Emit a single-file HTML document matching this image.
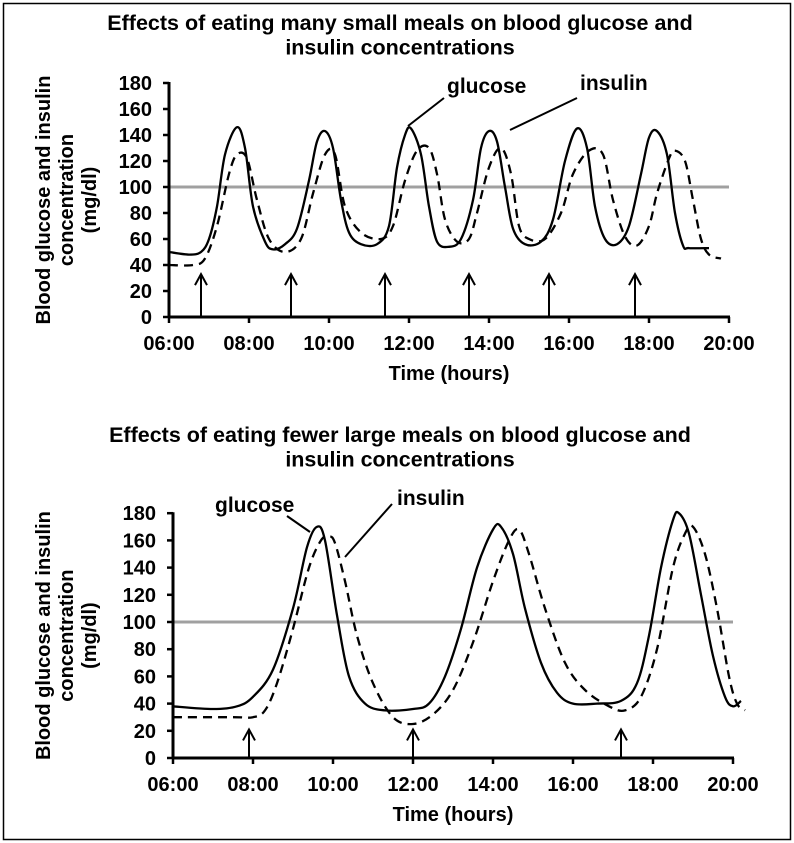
<!DOCTYPE html>
<html><head><meta charset="utf-8">
<style>
body{margin:0;background:#fff;}
svg{display:block;font-family:"Liberation Sans",Arial,sans-serif;font-weight:bold;}
</style></head>
<body>
<svg id="c" width="794" height="843" viewBox="0 0 794 843" xmlns="http://www.w3.org/2000/svg">
<rect x="3.5" y="3.5" width="787" height="836" fill="#fff" stroke="#000" stroke-width="1.5"/>
</svg>
<script>
// Top chart data
const topGlucoseHours=[6.0,6.5,6.8,7.0,7.2,7.4,7.7,7.9,8.1,8.4,8.6,8.9,9.2,9.5,9.7,9.9,10.1,10.3,10.5,10.8,11.2,11.5,11.7,11.9,12.05,12.3,12.5,12.7,13.0,13.3,13.6,13.8,14.0,14.2,14.4,14.6,14.9,15.3,15.6,15.9,16.2,16.45,16.65,16.9,17.2,17.5,17.8,18.0,18.2,18.45,18.65,18.85,19.0,19.5];
const topGlucoseValues=[50,48,50,60,85,125,146,130,85,58,52,56,68,105,135,143,130,90,65,56,56,70,115,140,145,125,85,58,54,60,90,130,143,135,100,68,56,58,75,120,145,130,85,60,56,70,110,138,143,125,80,55,53,53];
const topInsulinHours=[6.0,6.6,6.9,7.2,7.5,7.7,7.95,8.2,8.5,8.9,9.3,9.6,9.9,10.15,10.4,10.8,11.3,11.6,11.9,12.2,12.5,12.7,12.9,13.2,13.5,13.7,14.0,14.3,14.55,14.75,15.0,15.4,15.8,16.1,16.5,16.85,17.1,17.4,17.7,18.0,18.2,18.5,18.65,18.9,19.1,19.3,19.5,19.8];
const topInsulinValues=[40,40,45,70,110,125,122,90,60,50,60,95,125,125,85,65,60,70,105,128,130,110,75,58,60,80,115,130,110,70,60,60,80,110,128,125,90,62,55,70,95,122,128,120,90,60,48,45];
const topMealHours=[6.8,9.05,11.4,13.5,15.5,17.65];
// Bottom chart data
const botGlucoseHours=[6.0,7.0,7.6,8.0,8.5,9.0,9.35,9.6,9.8,10.1,10.4,10.8,11.3,12.0,12.4,12.8,13.2,13.6,14.0,14.2,14.5,14.8,15.2,15.6,16.0,16.6,17.2,17.6,17.9,18.2,18.5,18.65,18.9,19.2,19.5,19.8,20.0,20.2];
const botGlucoseValues=[38,36,38,45,65,110,155,170,160,105,60,40,35,36,40,60,95,140,168,170,150,110,70,48,40,40,42,55,90,140,175,180,165,120,75,45,38,42];
const botInsulinHours=[6.0,7.5,8.0,8.3,8.6,9.0,9.4,9.7,9.9,10.05,10.3,10.6,11.0,11.5,12.0,12.5,13.0,13.5,14.0,14.4,14.65,14.9,15.3,15.8,16.3,16.9,17.3,17.7,18.1,18.5,18.8,19.0,19.3,19.6,19.9,20.1,20.3];
const botInsulinValues=[30,30,30,35,55,95,140,160,163,158,130,90,55,30,25,32,50,85,130,160,168,150,110,70,50,38,35,45,80,140,165,170,150,110,60,40,35];
const botMealHours=[7.9,12.0,17.2];
const yTicks=[0,20,40,60,80,100,120,140,160,180];
const xTicks=[6,8,10,12,14,16,18,20];
const xTickLabels=["06:00","08:00","10:00","12:00","14:00","16:00","18:00","20:00"];

const NS="http://www.w3.org/2000/svg";
const svg=document.getElementById('c');
function mk(tag,attrs,parent,text){const e=document.createElementNS(NS,tag);for(const k in attrs)e.setAttribute(k,attrs[k]);if(text!==undefined)e.textContent=text;(parent||svg).appendChild(e);return e;}
function smooth(pts){let d="M"+pts[0][0].toFixed(1)+","+pts[0][1].toFixed(1);for(let i=0;i<pts.length-1;i++){const p0=pts[Math.max(0,i-1)],p1=pts[i],p2=pts[i+1],p3=pts[Math.min(pts.length-1,i+2)];const c1=[p1[0]+(p2[0]-p0[0])/6,p1[1]+(p2[1]-p0[1])/6],c2=[p2[0]-(p3[0]-p1[0])/6,p2[1]-(p3[1]-p1[1])/6];d+=" C"+c1[0].toFixed(1)+","+c1[1].toFixed(1)+" "+c2[0].toFixed(1)+","+c2[1].toFixed(1)+" "+p2[0].toFixed(1)+","+p2[1].toFixed(1);}return d;}

function chart(cfg){
  const g=mk('g',{});
  
  
  const X=h=>cfg.x0+(h-6)*cfg.pxh;
  const Y=v=>cfg.y0-v*cfg.pxv;
  cfg.title.forEach((t,i)=>{const e=mk('text',{x:400,y:cfg.titleY+i*24.5,'text-anchor':'middle','font-size':21.5},g,t);
    
    });
  const rl=mk('line',{x1:X(6),x2:X(20),y1:Y(100),y2:Y(100),stroke:'#a0a0a0','stroke-width':3},g);
  
  
  const ya=mk('line',{x1:X(6),x2:X(6),y1:Y(180)-1,y2:Y(0)+1,stroke:'#000','stroke-width':3},g);
  
  
  const xa=mk('line',{x1:X(6)-1,x2:X(20)+1,y1:Y(0),y2:Y(0),stroke:'#000','stroke-width':3},g);
  
  
  yTicks.forEach(v=>{mk('line',{x1:X(6)-6,x2:X(6),y1:Y(v),y2:Y(v),stroke:'#000','stroke-width':2.5},g);
    const t=mk('text',{x:X(6)-17,y:Y(v)+7,'text-anchor':'end','font-size':20},g,String(v));
    
    });
  xTicks.forEach((h,i)=>{mk('line',{x1:X(h),x2:X(h),y1:Y(0),y2:Y(0)+6,stroke:'#000','stroke-width':2.5},g);
    const t=mk('text',{x:X(h),y:Y(0)+33,'text-anchor':'middle','font-size':20},g,xTickLabels[i]);
    
    });
  const xt=mk('text',{x:(X(6)+X(20))/2,y:Y(0)+63,'text-anchor':'middle','font-size':20},g,'Time (hours)');
  
  
  const cy=(Y(0)+Y(180))/2;
  const yt=mk('text',{transform:`translate(${cfg.ytx},${cy}) rotate(-90)`,'text-anchor':'middle','font-size':20},g);
  
  
  ["Blood glucose and insulin","concentration","(mg/dl)"].forEach((s,i)=>mk('tspan',{x:0,dy:i?23:0},yt,s));
  const gp=mk('path',{d:smooth(cfg.gh.map((h,i)=>[X(h),Y(cfg.gv[i])])),fill:'none',stroke:'#000','stroke-width':2.3},g);
  
  
  const ip=mk('path',{d:smooth(cfg.ih.map((h,i)=>[X(h),Y(cfg.iv[i])])),fill:'none',stroke:'#000','stroke-width':2.3,'stroke-dasharray':'9,6'},g);
  
  
  cfg.meals.forEach(h=>{const a=mk('g',{},g);
    
    
    const x=X(h),yt2=Y(cfg.arrowTip);
    mk('line',{x1:x,x2:x,y1:Y(0),y2:yt2,stroke:'#000','stroke-width':2},a);
    mk('path',{d:`M${x-6},${yt2+11} L${x},${yt2} L${x+6},${yt2+11}`,fill:'none',stroke:'#000','stroke-width':2},a);});
  cfg.notes.forEach(n=>{const t=mk('text',{x:n.tx,y:n.ty,'font-size':21},g,n.label);
    
    
    const l=mk('line',{x1:n.l[0],y1:n.l[1],x2:n.l[2],y2:n.l[3],stroke:'#000','stroke-width':2},g);
    
    });
}

chart({name:'small-meals-chart',x0:169,pxh:40,y0:317,pxv:1.3,titleY:30,ytx:50,
  title:["Effects of eating many small meals on blood glucose and","insulin concentrations"],
  gh:topGlucoseHours,gv:topGlucoseValues,ih:topInsulinHours,iv:topInsulinValues,meals:topMealHours,arrowTip:33,
  notes:[{label:'glucose',tx:447,ty:93,l:[444,98,408,126]},{label:'insulin',tx:580,ty:90,l:[577,98,510,130]}]});
chart({name:'large-meals-chart',x0:173,pxh:40,y0:758,pxv:1.36,titleY:442,ytx:50,
  title:["Effects of eating fewer large meals on blood glucose and","insulin concentrations"],
  gh:botGlucoseHours,gv:botGlucoseValues,ih:botInsulinHours,iv:botInsulinValues,meals:botMealHours,arrowTip:21,
  notes:[{label:'glucose',tx:215,ty:512,l:[287,516,310,532]},{label:'insulin',tx:397,ty:505,l:[392,504,345,557]}]});
</script>
</body></html>
